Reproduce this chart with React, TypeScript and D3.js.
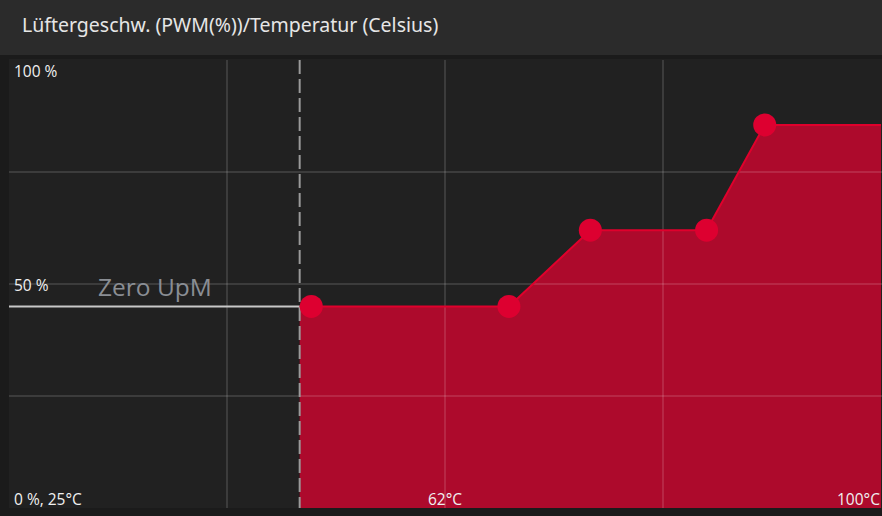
import React from "react";
import * as d3 from "d3";

const temps = [51, 68, 75, 85, 90];
const pwmValues = [45, 45, 62, 62, 85.5];
const zeroRpmTemp = 50;
const xDomain = [25, 100];
const yDomain = [0, 100];
const xGridTicks = [25, 43.75, 62.5, 81.25, 100];
const yGridTicks = [25, 50, 75];
const title = "Lüftergeschw. (PWM(%))/Temperatur (Celsius)";
const yLabels = [{ v: 100, t: "100 %" }, { v: 50, t: "50 %" }];
const cornerLabel = "0 %, 25°C";
const xLabels = [{ v: 62.5, t: "62°C", anchor: "middle" }, { v: 100, t: "100°C", anchor: "end" }];

const W = 882, H = 516;
const L = 9, R = 881, T = 60, B = 508;

export default function App() {
  const x = d3.scaleLinear().domain(xDomain).range([L, R]);
  const y = d3.scaleLinear().domain(yDomain).range([B, T]);
  const pts: [number, number][] = temps.map((t, i) => [t, pwmValues[i]]);
  const areaPts: [number, number][] = [[zeroRpmTemp, pwmValues[0]], ...pts, [xDomain[1], pwmValues[pwmValues.length - 1]]];
  const area = d3.area<[number, number]>().x(d => x(d[0])).y0(y(0)).y1(d => y(d[1]));
  const line = d3.line<[number, number]>().x(d => x(d[0])).y(d => y(d[1]));
  const font = "'Open Sans', 'Noto Sans', sans-serif";
  return (
    <svg width={W} height={H} style={{ position: "absolute", left: 0, top: 0, display: "block" }} fontFamily={font}>
      <rect x={0} y={0} width={W} height={H} fill="#1b1b1b" />
      <rect x={0} y={0} width={W} height={55} fill="#2b2b2b" />
      <text x={22} y={32} fill="#e6e6e6" fontSize={19.5} fontFamily="'Noto Sans', sans-serif">{title}</text>
      <rect x={L} y={T - 1} width={W - L} height={B - T + 1} fill="#212121" />
      <path d={area(areaPts) || ""} fill="#ad0a2c" />
      {xGridTicks.slice(1, 4).map((t, i) => (
        <line key={"gx" + i} x1={x(t)} x2={x(t)} y1={T} y2={B} stroke="rgba(255,255,255,0.12)" strokeWidth={2} />
      ))}
      {yGridTicks.map((t, i) => (
        <line key={"gy" + i} x1={L} x2={W} y1={y(t)} y2={y(t)} stroke="rgba(255,255,255,0.12)" strokeWidth={2} />
      ))}
      <line x1={L} x2={x(zeroRpmTemp)} y1={y(pwmValues[0])} y2={y(pwmValues[0])} stroke="#c8c8c8" strokeWidth={2} />
      <text x={98} y={296} fill="#8a8e94" fontSize={24.5}>Zero UpM</text>
      <line x1={x(zeroRpmTemp)} x2={x(zeroRpmTemp)} y1={T} y2={B} stroke="#9a9a9a" strokeWidth={2} strokeDasharray="14 5" />
      <path d={line(areaPts) || ""} fill="none" stroke="#e0002c" strokeWidth={2} />
      {pts.map((p, i) => (
        <circle key={"p" + i} cx={x(p[0])} cy={y(p[1])} r={11.5} fill="#dd0030" />
      ))}
      {yLabels.map((l, i) => (
        <text key={"yl" + i} x={14} y={y(l.v) + (l.v === 100 ? 17 : 7)} fill="#f0f0f0" fontSize={15.5}>{l.t}</text>
      ))}
      <text x={14} y={505} fill="#f0f0f0" fontSize={15.5}>{cornerLabel}</text>
      {xLabels.map((l, i) => (
        <text key={"xl" + i} x={l.anchor === "end" ? x(l.v) - 1 : x(l.v)} y={505} textAnchor={l.anchor} fill="#f0f0f0" fontSize={15.5}>{l.t}</text>
      ))}
    </svg>
  );
}
